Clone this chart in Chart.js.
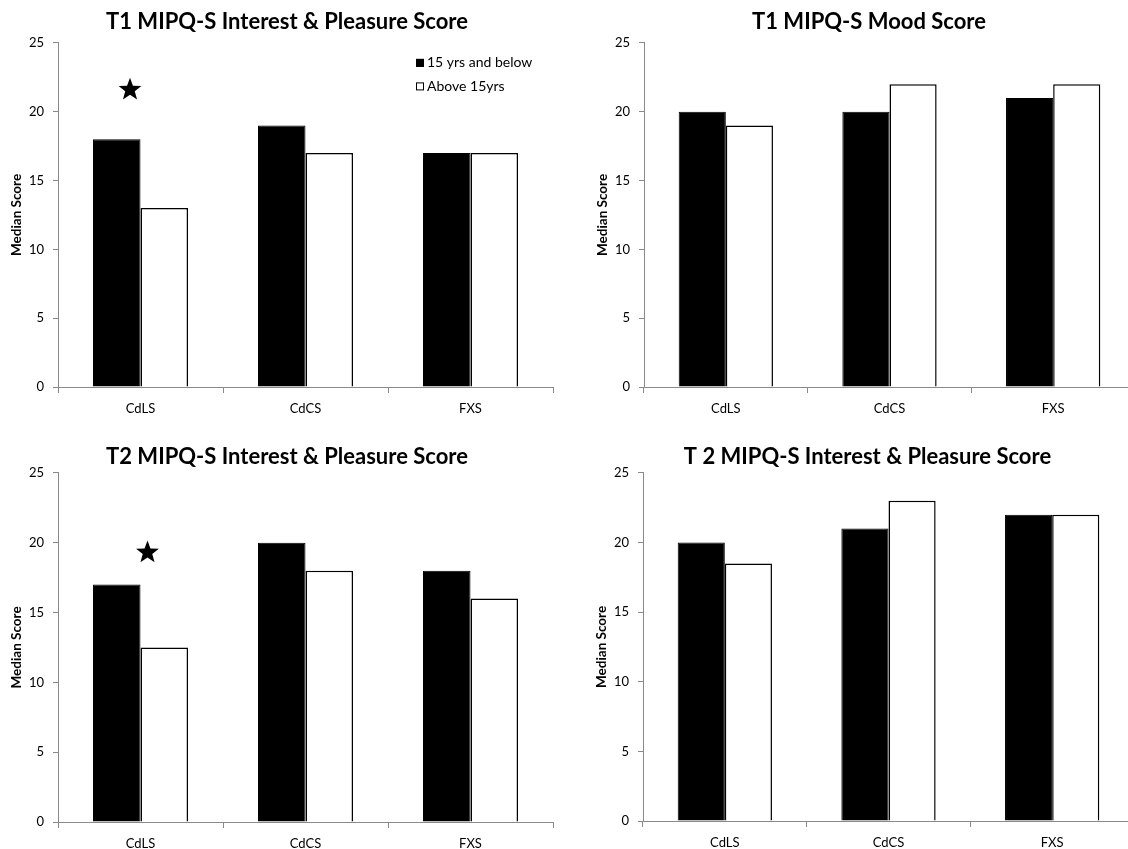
<!DOCTYPE html>
<html>
<head>
<meta charset="utf-8">
<script src="https://cdn.jsdelivr.net/npm/chart.js@4.4.1/dist/chart.umd.min.js"></script>
<style>
  html, body { margin: 0; padding: 0; background: #fff; overflow: hidden; }
  #page { position: relative; width: 1128px; height: 849px; overflow: hidden; background: #fff; }
  #page canvas { position: absolute; }
</style>
</head>
<body>
<div id="page">
  <canvas id="t1Interest"></canvas>
  <canvas id="t1Mood"></canvas>
  <canvas id="t2Interest"></canvas>
  <canvas id="t2InterestB"></canvas>
</div>
<script>
// categorias e grupos de idade
const categories = ['CdLS', 'CdCS', 'FXS'];
const groupLabels = ['15 yrs and below', 'Above 15yrs'];
const yMin = 0;
const yMax = 25;
const yStep = 5;

// medianas
const t1InterestYoung = [18, 19, 17];
const t1InterestOld = [13, 17, 17];
const t1MoodYoung = [20, 20, 21];
const t1MoodOld = [19, 22, 22];
const t2InterestYoung = [17, 20, 18];
const t2InterestOld = [12.5, 18, 16];
const t2InterestBYoung = [20, 21, 22];
const t2InterestBOld = [18.5, 23, 22];

// estrelas de significância: categoria e altura
const t1InterestStar = ['CdLS', 21.6];
const t2InterestStar = ['CdLS', 19.3];

const axisGrey = '#8a8a8a';
Chart.defaults.font.family = 'Lato';
Chart.defaults.color = '#000';

// estrela preenchida de 5 pontas
const starMark = {
    id: 'starMark',
    afterDatasetsDraw(chart, args, opts) {
        if (!opts.mark) return;
        const { ctx, scales: { x, y } } = chart;
        const cx = x.getPixelForValue(categories.indexOf(opts.mark[0])) + opts.dx;
        const cy = y.getPixelForValue(opts.mark[1]);
        ctx.save();
        ctx.beginPath();
        for (let i = 0; i < 10; i++) {
            const r = i % 2 === 0 ? opts.outer : opts.inner;
            const a = -Math.PI / 2 + i * Math.PI / 5;
            const px = cx + r * Math.cos(a);
            const py = cy + r * Math.sin(a);
            if (i === 0) ctx.moveTo(px, py); else ctx.lineTo(px, py);
        }
        ctx.closePath();
        ctx.fillStyle = '#000';
        ctx.fill();
        ctx.restore();
    }
};

// legenda com quadradinhos dentro da área do gráfico
const boxLegend = {
    id: 'boxLegend',
    afterDraw(chart, args, opts) {
        if (!opts.show) return;
        const { ctx, chartArea } = chart;
        const x = chartArea.right + opts.dx;
        const y0 = chartArea.top + opts.dy;
        ctx.save();
        chart.data.datasets.forEach((ds, i) => {
            const y = y0 + i * opts.gap;
            ctx.fillStyle = ds.backgroundColor;
            ctx.fillRect(x, y - 4, 8, 8);
            ctx.strokeStyle = '#000';
            ctx.lineWidth = 1;
            ctx.strokeRect(x + 0.5, y - 3.5, 7, 7);
            ctx.fillStyle = '#000';
            ctx.font = opts.font;
            ctx.textBaseline = 'middle';
            ctx.fillText(ds.label, x + 11, y);
        });
        ctx.restore();
    }
};

function drawPanel(id, title, young, old, box) {
    const canvas = document.getElementById(id);
    canvas.width = box.w;
    canvas.height = box.h;
    canvas.style.left = box.left + 'px';
    canvas.style.top = box.top + 'px';

    return new Chart(canvas, {
        type: 'bar',
        data: {
            labels: categories,
            datasets: [{
                label: groupLabels[0],
                data: young,
                backgroundColor: '#000',
                borderColor: '#000',
                borderWidth: 1,
                categoryPercentage: 0.576,
                barPercentage: 1
            }, {
                label: groupLabels[1],
                data: old,
                backgroundColor: '#fff',
                borderColor: '#000',
                borderWidth: 1.5,
                categoryPercentage: 0.576,
                barPercentage: 1
            }]
        },
        options: {
            responsive: false,
            animation: false,
            layout: { padding: 0 },
            plugins: {
                legend: { display: false },
                tooltip: { enabled: false },
                title: {
                    display: true,
                    text: title,
                    color: '#000',
                    font: { size: 22, weight: 'bold' },
                    padding: box.titlePad
                },
                starMark: { mark: box.star, dx: box.starDx, outer: 12, inner: 5 },
                boxLegend: { show: !!box.legend, dx: -137, dy: 20, gap: 23.5, font: '14px Lato' }
            },
            scales: {
                x: {
                    grid: { drawOnChartArea: false, tickLength: 6, color: axisGrey },
                    border: { color: axisGrey },
                    ticks: { font: { size: 13 }, padding: 8, color: '#000' },
                    afterFit: (s) => { s.height = box.xH; }
                },
                y: {
                    min: yMin,
                    max: yMax,
                    ticks: { stepSize: yStep, font: { size: 13 }, padding: 9, color: '#000' },
                    grid: { drawOnChartArea: false, tickLength: 5, color: axisGrey },
                    border: { color: axisGrey },
                    title: {
                        display: true,
                        text: 'Median Score',
                        color: '#000',
                        font: { size: 13.5, weight: 'bold' },
                        padding: { top: 9, bottom: 0 }
                    },
                    afterFit: (s) => { s.width = 58; }
                },
                // eixo invisível à direita só para centralizar o título
                yR: {
                    position: 'right',
                    grid: { display: false },
                    border: { display: false },
                    ticks: { display: false },
                    afterFit: (s) => { s.width = box.rW; }
                }
            }
        },
        plugins: [starMark, boxLegend]
    });
}

drawPanel('t1Interest', 'T1 MIPQ-S Interest & Pleasure Score', t1InterestYoung, t1InterestOld,
    { left: 0, top: 0, w: 574, h: 430, rW: 21, xH: 43, titlePad: { top: 8.5, bottom: 8 },
      star: t1InterestStar, starDx: -10.5, legend: true });
drawPanel('t1Mood', 'T1 MIPQ-S Mood Score', t1MoodYoung, t1MoodOld,
    { left: 586, top: 0, w: 566, h: 430, rW: 17, xH: 43, titlePad: { top: 8.5, bottom: 8 } });
drawPanel('t2Interest', 'T2 MIPQ-S Interest & Pleasure Score', t2InterestYoung, t2InterestOld,
    { left: 0, top: 430, w: 574, h: 440, rW: 21, xH: 48, titlePad: { top: 13.5, bottom: 3 },
      star: t2InterestStar, starDx: 7 });
drawPanel('t2InterestB', 'T 2 MIPQ-S Interest & Pleasure Score', t2InterestBYoung, t2InterestBOld,
    { left: 585, top: 430, w: 565, h: 440, rW: 16, xH: 49, titlePad: { top: 13.5, bottom: 3 } });
</script>
</body>
</html>
